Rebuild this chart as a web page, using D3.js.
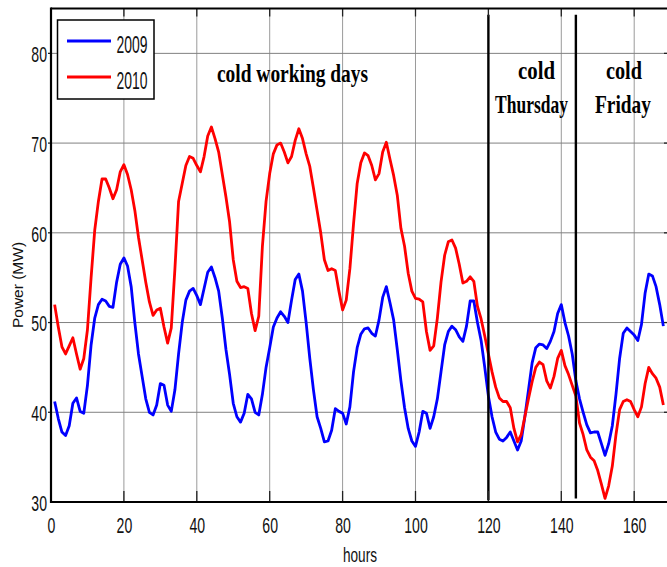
<!DOCTYPE html>
<html>
<head>
<meta charset="utf-8">
<script src="https://cdn.jsdelivr.net/npm/d3@7/dist/d3.min.js"></script>
<style>
  html, body { margin: 0; padding: 0; background: #fff; }
  svg { display: block; }
</style>
</head>
<body>
<svg id="chart" width="667" height="567"></svg>
<script>
// Hourly electric load over one week (hours 1..168)
const hours = d3.range(1, 169);

const load2009 = [
  41.2, 39.3, 37.8, 37.4, 38.5, 41.0, 41.6, 40.1, 39.9, 43.0, 47.5, 50.5, 52.0, 52.6, 52.4, 51.8, 51.7, 54.5, 56.5, 57.2, 56.3, 54.0, 50.0, 46.5,
  44.0, 41.5, 40.0, 39.7, 40.8, 43.2, 43.0, 40.8, 40.1, 42.5, 46.5, 50.0, 52.5, 53.5, 53.8, 53.0, 52.0, 53.8, 55.6, 56.2, 55.0, 53.5, 50.5, 47.0,
  44.2, 41.0, 39.5, 38.9, 39.9, 42.0, 41.5, 40.0, 39.7, 42.0, 45.0, 47.2, 49.5, 50.5, 51.2, 50.7, 50.0, 52.5, 54.8, 55.4, 53.5, 50.0, 46.0, 42.5,
  39.5, 38.2, 36.7, 36.8, 38.0, 40.4, 40.1, 39.9, 38.7, 40.6, 44.5, 47.2, 48.7, 49.3, 49.4, 48.8, 48.5, 50.3, 52.8, 54.0, 52.2, 50.3, 47.0, 43.5,
  40.5, 38.2, 36.8, 36.2, 37.8, 40.1, 39.9, 38.2, 39.5, 41.5, 44.5, 47.5, 49.0, 49.6, 49.2, 48.4, 47.9, 49.6, 52.4, 52.4, 50.0, 48.0, 45.0, 41.8,
  39.5, 37.8, 37.0, 36.8, 37.2, 37.8, 36.8, 35.8, 36.8, 39.5, 42.5, 45.5, 47.2, 47.6, 47.5, 47.1, 47.9, 49.0, 51.0, 52.0, 50.0, 48.5, 46.5, 43.5,
  41.5, 40.0, 38.6, 37.7, 37.8, 37.8, 36.5, 35.2, 36.5, 38.5, 42.0, 46.0, 48.8, 49.4, 49.0, 48.6, 48.0, 49.8, 53.3, 55.4, 55.2, 54.0, 52.0, 49.6
];

const load2010 = [
  52.0, 49.5, 47.3, 46.5, 47.4, 48.3, 46.5, 44.8, 46.0, 49.2, 55.0, 60.3, 63.5, 66.0, 66.0, 65.0, 63.8, 64.8, 66.8, 67.6, 66.5, 64.8, 62.5, 59.5,
  57.0, 54.5, 52.3, 50.8, 51.4, 51.6, 49.5, 47.7, 49.4, 56.0, 63.5, 65.5, 67.5, 68.5, 68.3, 67.5, 66.8, 68.5, 70.8, 71.8, 70.5, 69.0, 66.5, 64.0,
  61.2, 57.0, 54.6, 53.9, 54.0, 53.8, 51.0, 49.1, 50.7, 58.5, 63.5, 66.6, 68.8, 69.8, 70.0, 69.0, 67.8, 68.5, 70.3, 71.6, 70.5, 68.8, 67.4, 65.0,
  62.5, 60.0, 57.0, 55.8, 56.0, 55.8, 53.5, 51.4, 52.5, 56.0, 61.0, 65.5, 67.8, 68.9, 68.6, 67.5, 65.9, 66.6, 69.0, 70.1, 68.2, 66.4, 64.2, 60.5,
  58.5, 55.5, 53.5, 52.7, 52.6, 52.3, 49.0, 46.9, 47.4, 50.5, 54.5, 57.5, 59.0, 59.2, 58.3, 56.5, 54.4, 54.6, 55.1, 54.6, 51.8, 50.4, 48.5, 46.5,
  44.5, 42.8, 41.6, 41.2, 41.2, 40.5, 38.2, 36.7, 37.5, 39.5, 41.5, 43.4, 45.0, 45.6, 45.3, 43.5, 42.7, 44.0, 46.0, 46.9, 45.2, 44.2, 43.0, 41.8,
  38.8, 37.5, 35.8, 35.0, 34.6, 33.5, 32.0, 30.4, 31.8, 34.0, 37.5, 40.3, 41.2, 41.4, 41.2, 40.3, 39.5, 40.6, 43.2, 45.0, 44.3, 43.8, 42.8, 40.8
];

const seriesNames = ["2009", "2010"];
const seriesColors = ["#0000ff", "#ff0000"];
const xTicks = [0, 20, 40, 60, 80, 100, 120, 140, 160];
const yTicks = [30, 40, 50, 60, 70, 80];
const dayBreaks = [120, 144];

const svg = d3.select("#chart");

const x = d3.scaleLinear().domain([0, 169]).range([51, 667]);
const y = d3.scaleLinear().domain([30, 85]).range([502, 8.5]);

const squeeze = (sel, f) => sel.each(function () {
  const w = this.getComputedTextLength();
  d3.select(this).attr("textLength", w * f).attr("lengthAdjust", "spacingAndGlyphs");
});

// grid
const grid = svg.append("g");
grid.selectAll("line.gx").data(xTicks.filter(d => d > 0)).join("line")
  .attr("x1", d => x(d)).attr("x2", d => x(d))
  .attr("y1", y(85)).attr("y2", y(30))
  .attr("stroke", "#9a9a9a").attr("stroke-width", 1);
grid.selectAll("line.gy").data(yTicks.filter(d => d > 30)).join("line")
  .attr("x1", x(0)).attr("x2", x(169))
  .attr("y1", d => y(d)).attr("y2", d => y(d))
  .attr("stroke", "#808080").attr("stroke-width", 1);

// series
const line = d3.line().x((d, i) => x(hours[i])).y(d => y(d));
[load2009, load2010].forEach((vals, k) => {
  svg.append("path").datum(vals)
    .attr("fill", "none")
    .attr("stroke", seriesColors[k])
    .attr("stroke-width", 2.8)
    .attr("stroke-linejoin", "round")
    .attr("d", line);
});

// day separators
svg.selectAll("line.sep").data(dayBreaks).join("line")
  .attr("x1", d => x(d)).attr("x2", d => x(d))
  .attr("y1", y(84.3)).attr("y2", (d, i) => y(i === 0 ? 30.2 : 30.4))
  .attr("stroke", "#000").attr("stroke-width", 2.4);

// axes
const xAxis = svg.append("g").attr("transform", `translate(0,${y(30)})`)
  .call(d3.axisBottom(x).tickValues(xTicks).tickSize(0).tickPadding(0).tickFormat(d3.format("d")));
xAxis.select(".domain").remove();
xAxis.selectAll("text")
  .attr("y", 31).attr("dy", 0)
  .attr("font-family", "Liberation Sans, Arial, sans-serif")
  .attr("font-size", 22).attr("fill", "#111")
  .call(squeeze, 0.64);

const yAxis = svg.append("g").attr("transform", `translate(${x(0)},0)`)
  .call(d3.axisLeft(y).tickValues(yTicks).tickSize(0).tickPadding(0).tickFormat(d3.format("d")));
yAxis.select(".domain").remove();
yAxis.selectAll("text")
  .attr("x", -4).attr("dy", "0.38em")
  .attr("font-family", "Liberation Sans, Arial, sans-serif")
  .attr("font-size", 22).attr("fill", "#111")
  .call(squeeze, 0.64);

// tick marks
const tk = svg.append("g").attr("stroke", "#222").attr("stroke-width", 1.3);
xTicks.filter(d => d > 0).forEach(d => {
  tk.append("line").attr("x1", x(d)).attr("x2", x(d)).attr("y1", y(30)).attr("y2", y(30) - 11);
  tk.append("line").attr("x1", x(d)).attr("x2", x(d)).attr("y1", y(85)).attr("y2", y(85) + 8);
});
yTicks.filter(d => d > 30).forEach(d => {
  tk.append("line").attr("x1", x(0) - 3).attr("x2", x(0)).attr("y1", y(d)).attr("y2", y(d));
  tk.append("line").attr("x1", x(169) - 3).attr("x2", x(169)).attr("y1", y(d)).attr("y2", y(d));
});

// frame
svg.append("line").attr("x1", x(0)).attr("x2", 667).attr("y1", y(30)).attr("y2", y(30))
  .attr("stroke", "#000").attr("stroke-width", 2.2);
svg.append("line").attr("x1", x(0)).attr("x2", 667).attr("y1", y(85)).attr("y2", y(85))
  .attr("stroke", "#000").attr("stroke-width", 2.2);
svg.append("line").attr("x1", x(0)).attr("x2", x(0)).attr("y1", y(85) - 1).attr("y2", y(30) + 1)
  .attr("stroke", "#000").attr("stroke-width", 2.2);

// axis titles
svg.append("text")
  .attr("x", 360).attr("y", 562)
  .attr("text-anchor", "middle")
  .attr("font-family", "Liberation Sans, Arial, sans-serif")
  .attr("font-size", 21).attr("fill", "#111")
  .text("hours")
  .attr("textLength", 34).attr("lengthAdjust", "spacingAndGlyphs");

svg.append("text")
  .attr("transform", "translate(22.5,285) rotate(-90)")
  .attr("text-anchor", "middle")
  .attr("font-family", "Liberation Sans, Arial, sans-serif")
  .attr("font-size", 15.5).attr("fill", "#111")
  .text("Power (MW)");

// legend
const lg = svg.append("g");
lg.append("rect").attr("x", 57.5).attr("y", 20).attr("width", 96.5).attr("height", 79)
  .attr("fill", "#fff").attr("stroke", "#000").attr("stroke-width", 1.5);
seriesNames.forEach((name, i) => {
  const cy = 41 + i * 36;
  lg.append("line").attr("x1", 67).attr("x2", 111).attr("y1", cy).attr("y2", cy)
    .attr("stroke", seriesColors[i]).attr("stroke-width", 3);
  lg.append("text").attr("x", 116.5).attr("y", cy + 11.5)
    .attr("font-family", "Liberation Sans, Arial, sans-serif")
    .attr("font-size", 23).attr("fill", "#111")
    .text(name)
    .attr("textLength", 31).attr("lengthAdjust", "spacingAndGlyphs");
});

// period annotations
const notes = [
  { t: "cold working days", cx: 292.5, by: 82, w: 151 },
  { t: "cold", cx: 536.5, by: 79, w: 37 },
  { t: "Thursday", cx: 531.5, by: 113, w: 73 },
  { t: "cold", cx: 624, by: 79, w: 36 },
  { t: "Friday", cx: 623, by: 113, w: 56 }
];
svg.selectAll("text.note").data(notes).join("text")
  .attr("class", "note")
  .attr("x", d => d.cx).attr("y", d => d.by)
  .attr("text-anchor", "middle")
  .attr("font-family", "Liberation Serif, Times New Roman, serif")
  .attr("font-weight", "bold")
  .attr("font-size", 25).attr("fill", "#000")
  .attr("textLength", d => d.w).attr("lengthAdjust", "spacingAndGlyphs")
  .text(d => d.t);
</script>
</body>
</html>
